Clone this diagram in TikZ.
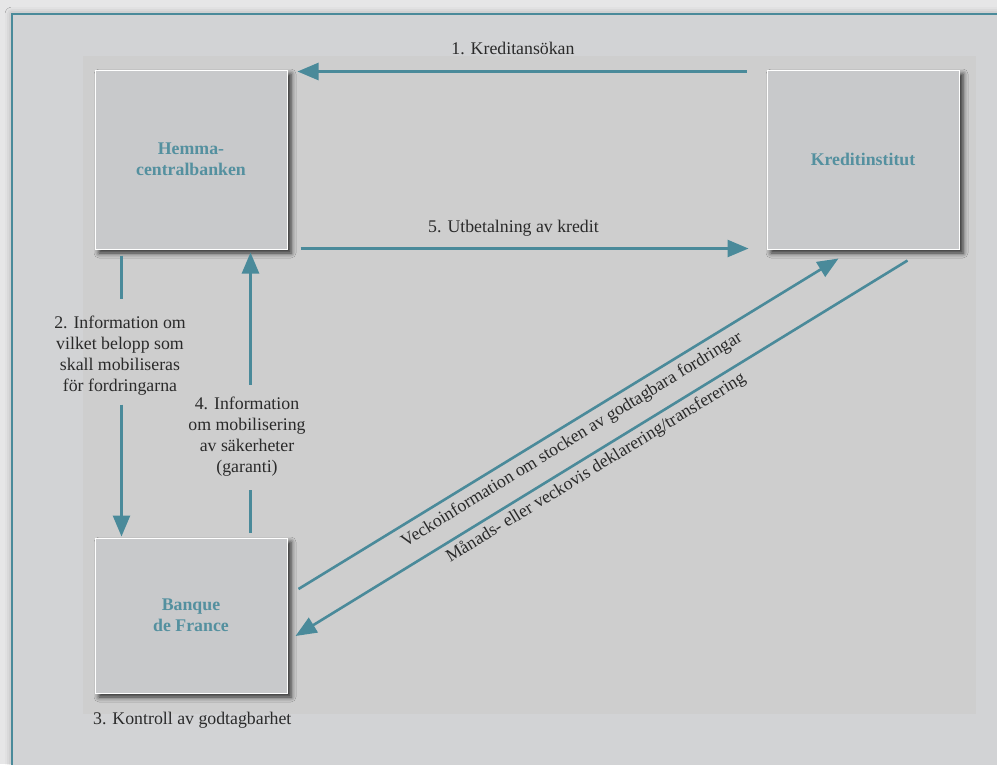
\documentclass[tikz,border=0pt]{standalone}
\usepackage{fontspec}
\setmainfont{Liberation Serif}
\usetikzlibrary{arrows.meta,shadows.blur}
\definecolor{tealline}{HTML}{4A8A9A}
\definecolor{tealtxt}{HTML}{54909F}
\definecolor{outerbg}{HTML}{E6E6E7}
\definecolor{framebg}{HTML}{D2D3D5}
\definecolor{panelbg}{HTML}{CECECE}
\definecolor{boxbg}{HTML}{C8C9CB}
\definecolor{txtcol}{HTML}{2A2A2A}
\begin{document}
\begin{tikzpicture}[x=1pt,y=-1pt,
  box/.style={draw=white, line width=1pt, fill=boxbg, minimum width=192pt,
    inner sep=0pt, font=\fontsize{17.8}{21}\selectfont\bfseries, text=tealtxt,
    align=center,
    blur shadow={shadow xshift=4pt, shadow yshift=-4pt, shadow blur radius=5pt, shadow opacity=80}},
  conn/.style={draw=tealline, line width=2.6pt},
  arr/.style={conn, -{Triangle[length=21pt,width=17pt]}},
  lbl/.style={font=\fontsize{17.8}{21}\selectfont, text=txtcol, align=center, inner sep=0pt}]
\useasboundingbox (0,0) rectangle (997,764);
\fill[outerbg] (0,0) rectangle (997,764);
\fill[framebg, blur shadow={shadow xshift=0pt, shadow yshift=0pt, shadow blur radius=7pt, shadow opacity=30}] (12,14) rectangle (1015,785);
\draw[tealline, line width=1.5pt] (12,785) -- (12,14) -- (1015,14);
\fill[panelbg] (83,56) rectangle (976,714);

\node[box, minimum height=179pt] (hem) at (191,159.5) {Hemma-\\centralbanken};
\node[box, minimum height=179pt] (kred) at (863,159.5) {Kreditinstitut};
\node[box, minimum height=155pt] (bdf) at (191,615.5) {Banque\\de France};

% 1 and 5
\draw[arr] ([xshift=-20pt,yshift=-2pt]kred.north west) --
  node[lbl, anchor=base, yshift=17pt, xshift=-9pt] {1. Kreditansökan}
  ([xshift=10pt,yshift=-2pt]hem.north east);
\draw[arr] ([xshift=13pt,yshift=1pt]hem.south east) --
  node[lbl, anchor=base, yshift=16.5pt, xshift=-11pt] {5. Utbetalning av kredit}
  ([xshift=-18pt,yshift=1pt]kred.south west);

% 2
\coordinate (a2a) at ([xshift=27pt,yshift=-6pt]hem.south west);
\coordinate (a2b) at ([xshift=27pt,yshift=-49pt]hem.south west);
\coordinate (a2c) at ([xshift=27pt,yshift=133pt]bdf.north west);
\coordinate (a2d) at ([xshift=27pt,yshift=1pt]bdf.north west);
\draw[conn] (a2a) -- (a2b);
\draw[arr] (a2c) -- (a2d);
\node[lbl] (l2) at (120,356) {2. Information om\\vilket belopp som\\skall mobiliseras\\för fordringarna};

% 4
\coordinate (a4a) at ([xshift=156pt,yshift=5pt]bdf.north west);
\coordinate (a4b) at ([xshift=156pt,yshift=48pt]bdf.north west);
\coordinate (a4c) at ([xshift=156pt,yshift=-135pt]hem.south west);
\coordinate (a4d) at ([xshift=156pt,yshift=-3pt]hem.south west);
\draw[conn] (a4a) -- (a4b);
\draw[arr] (a4c) -- (a4d);
\node[lbl] (l4) at (247,436.5) {4. Information\\om mobilisering\\av säkerheter\\(garanti)};

% diagonals
\draw[arr] ([xshift=11pt,yshift=26.5pt]bdf.east) -- ([xshift=72pt,yshift=-9pt]kred.south west);
\draw[arr] ([xshift=141pt,yshift=-11pt]kred.south west) -- ([xshift=8pt,yshift=-20.5pt]bdf.east);
\node[lbl, rotate=31.5] (la) at (572,440) {Veckoinformation om stocken av godtagbara fordringar};
\node[lbl, rotate=31.5] (lb) at (596,468) {Månads- eller veckovis deklarering/transferering};

% 3
\node[lbl, anchor=base west] (l3) at (93,724) {3. Kontroll av godtagbarhet};
\end{tikzpicture}
\end{document}
